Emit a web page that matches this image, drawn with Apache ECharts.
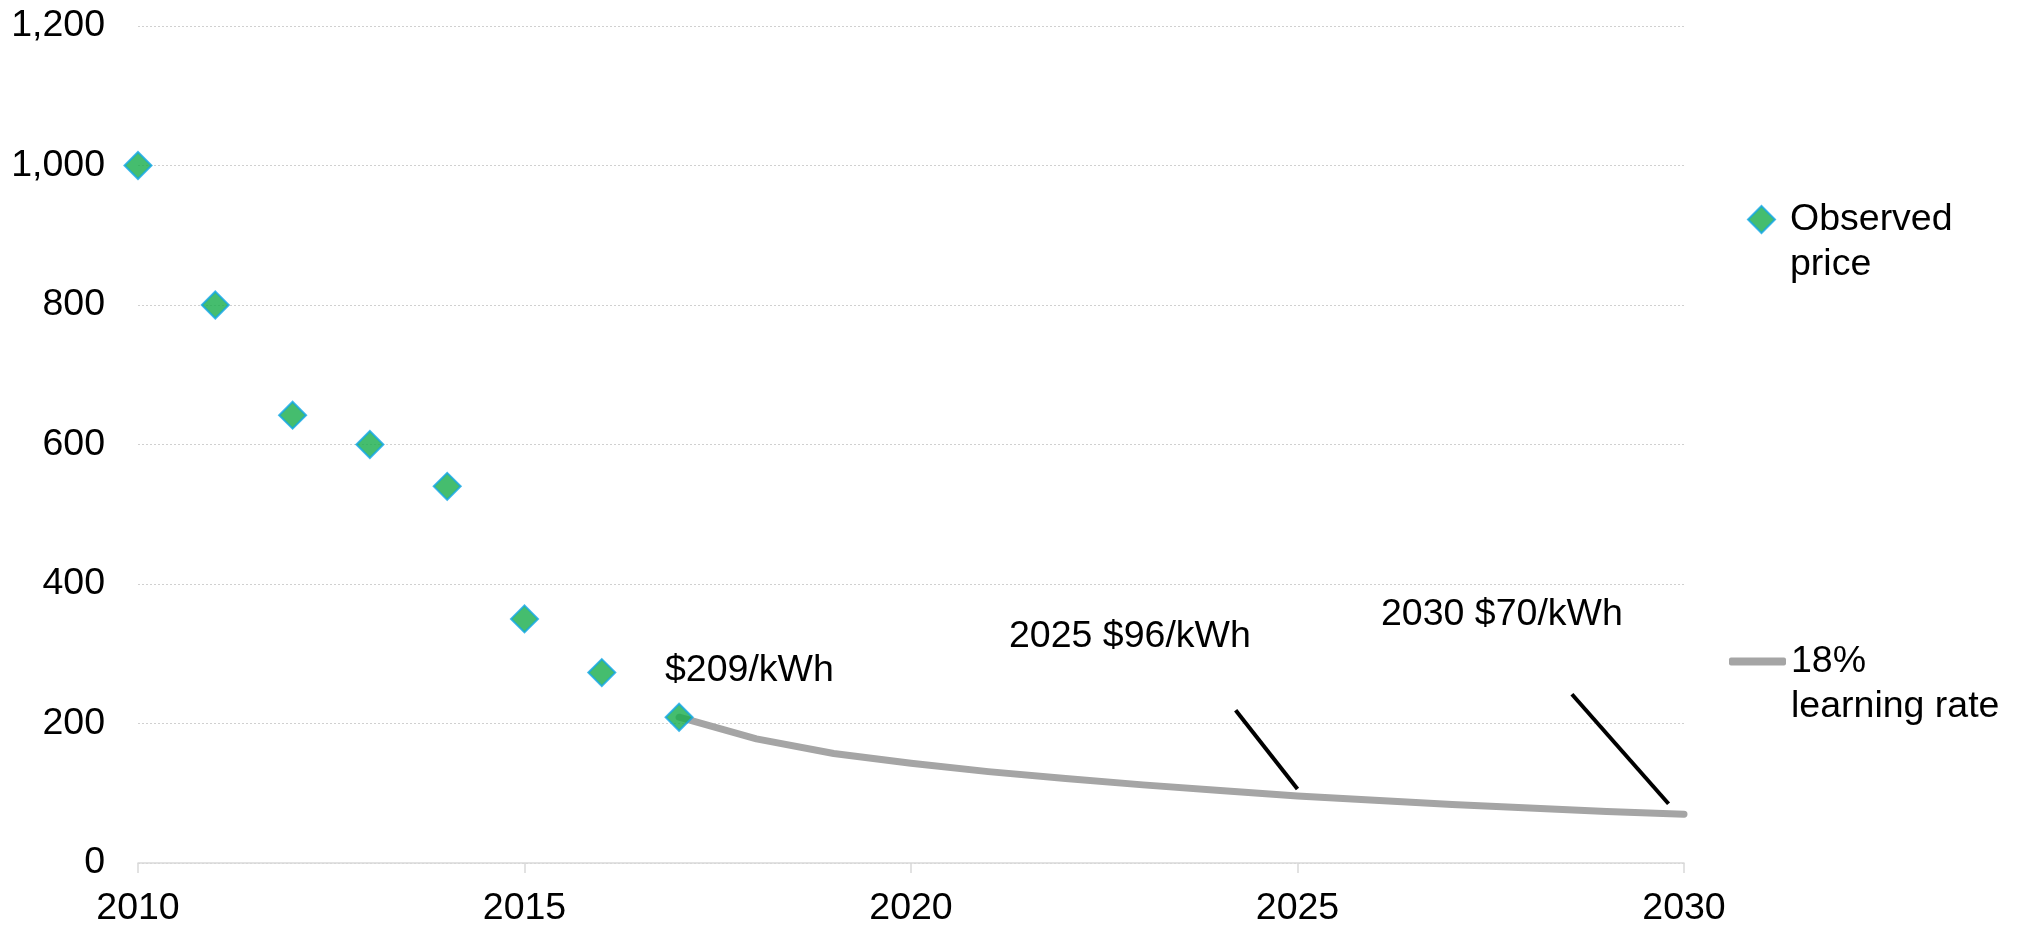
<!DOCTYPE html>
<html>
<head>
<meta charset="utf-8">
<script src="https://cdn.jsdelivr.net/npm/echarts@6/dist/echarts.min.js"></script>
<style>
    html, body { margin: 0; padding: 0; background: #fff; }
    #myChart { width: 2020px; height: 928px; }
</style>
</head>
<body>
<div id="myChart"></div>
<script>
    // observed pack price, $/kWh
    var observedYears = [2010, 2011, 2012, 2013, 2014, 2015, 2016, 2017];
    var observedPrice = [1000, 800, 642, 600, 540, 350, 273, 209];

    // 18% learning rate projection
    var learnYears = [2017, 2018, 2019, 2020, 2021, 2022, 2023, 2024, 2025, 2026, 2027, 2028, 2029, 2030];
    var learnPrice = [209, 178, 157, 143, 131, 121, 112, 104, 96, 90, 84, 79, 74, 70];

    // annotation leader lines [x, y] in data units
    var leader2025 = [[2024.2, 219], [2025.0, 106]];
    var leader2030 = [[2028.55, 242], [2029.8, 85]];

    var font = 'Liberation Sans, Arial, sans-serif';
    var fs = 37.5;

    var myChart = echarts.init(document.getElementById('myChart'));  // 初始化echarts实例

    function pairs(xs, ys) {
        return xs.map(function (x, i) { return [x, ys[i]]; });
    }

    myChart.setOption({
        animation: false,
        grid: { left: 138, right: 336, top: 26, bottom: 64 },
        legend: [
            {
                left: 1742, top: 147,
                data: ['Observed price'],
                icon: 'diamond',
                itemWidth: 27, itemHeight: 27,
                formatter: function () { return '\nObserved\nprice'; },
                textStyle: { fontFamily: font, fontSize: fs, color: '#000', lineHeight: 45, padding: [0, 0, 0, 10] }
            },
            {
                left: 1724, top: 589,
                data: ['18% learning rate'],
                icon: 'roundRect',
                itemWidth: 57, itemHeight: 8,
                formatter: function () { return '\n18%\nlearning rate'; },
                textStyle: { fontFamily: font, fontSize: fs, color: '#000', lineHeight: 45 }
            }
        ],
        xAxis: {
            type: 'value',
            min: 2010, max: 2030, interval: 5,
            axisLine: { show: true, onZero: false, lineStyle: { color: '#d9d9d9', width: 1.5 } },
            axisTick: { show: true, length: 10, lineStyle: { color: '#d9d9d9', width: 1.5 } },
            splitLine: { show: false },
            axisLabel: {
                margin: 27, fontFamily: font, fontSize: fs, color: '#000',
                formatter: function (v) { return String(v); }
            }
        },
        yAxis: {
            type: 'value',
            min: 0, max: 1200, interval: 200,
            axisLine: { show: false },
            axisTick: { show: false },
            splitLine: { lineStyle: { color: '#d0d0d0', type: [2, 2], width: 1 } },
            axisLabel: {
                margin: 33, fontFamily: font, fontSize: fs, color: '#000',
                formatter: function (v) { return v.toLocaleString('en-US'); }
            }
        },
        graphic: [
            { type: 'text', left: 665, top: 652, style: { text: '$209/kWh', font: fs + 'px ' + font, fill: '#000' } },
            { type: 'text', left: 1009, top: 618, style: { text: '2025 $96/kWh', font: fs + 'px ' + font, fill: '#000' } },
            { type: 'text', left: 1381, top: 596, style: { text: '2030 $70/kWh', font: fs + 'px ' + font, fill: '#000' } }
        ],
        series: [
            {
                name: '18% learning rate',
                type: 'line',
                data: pairs(learnYears, learnPrice),
                symbol: 'none',
                z: 2,
                itemStyle: { color: '#a5a5a5' },
                lineStyle: { color: '#a5a5a5', width: 7, cap: 'round', join: 'round' },
                markLine: {
                    silent: true,
                    symbol: 'none',
                    label: { show: false },
                    lineStyle: { color: '#000', width: 4, type: 'solid' },
                    data: [
                        [{ coord: leader2025[0] }, { coord: leader2025[1] }],
                        [{ coord: leader2030[0] }, { coord: leader2030[1] }]
                    ]
                }
            },
            {
                name: 'Observed price',
                type: 'scatter',
                data: pairs(observedYears, observedPrice),
                symbol: 'diamond',
                symbolSize: 27,
                z: 5,
                itemStyle: { color: '#17ad4a', borderColor: '#12a6e6', borderWidth: 2 }
            }
        ]
    });
</script>
</body>
</html>
